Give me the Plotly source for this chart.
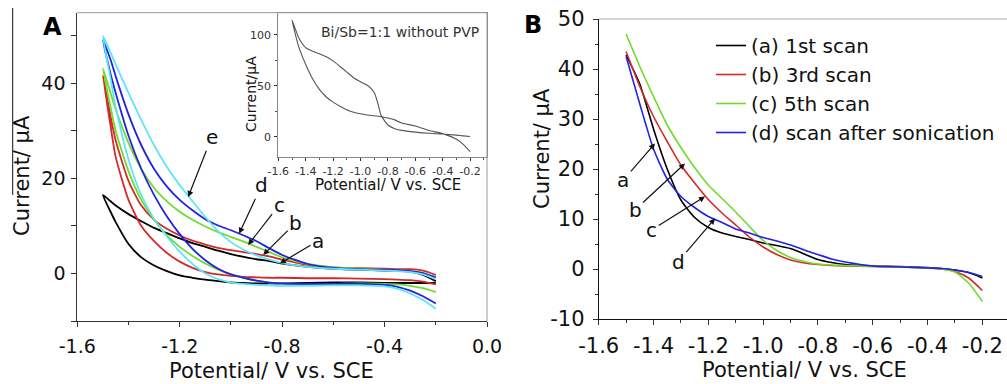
import plotly.graph_objects as go

# ---------------- Panel A: cyclic voltammograms (upper / lower branches) ----------------
VA = [-1.5, -1.47, -1.45, -1.4, -1.35, -1.3, -1.25, -1.2, -1.15, -1.1, -1.05, -1.0,
      -0.95, -0.9, -0.85, -0.8, -0.7, -0.6, -0.5, -0.4, -0.35, -0.3, -0.25, -0.2]

a_up = [16.5, 15.2, 14.3, 12.5, 11.0, 9.6, 8.5, 7.4, 6.4, 5.6, 4.8, 4.1,
        3.5, 3.0, 2.6, 2.1, 1.4, 1.0, 0.8, 0.6, 0.5, 0.4, -0.3, -1.6]
a_lo = [16.5, 13.0, 10.8, 6.2, 3.4, 1.7, 0.5, -0.4, -0.9, -1.3, -1.6, -1.9,
        -2.0, -2.1, -2.1, -2.1, -2.0, -1.9, -1.9, -2.0, -2.0, -2.0, -2.0, -2.0]
b_up = [41.7, 33.0, 28.0, 19.5, 14.3, 11.3, 9.4, 8.0, 6.9, 6.1, 5.4, 4.9,
        4.5, 4.1, 3.6, 2.9, 1.8, 1.3, 1.1, 1.0, 0.9, 0.9, 0.6, -0.3]
b_lo = [41.7, 31.0, 24.5, 15.5, 10.0, 6.8, 4.3, 2.5, 1.2, 0.3, -0.2, -0.5,
        -0.7, -0.8, -0.9, -0.9, -1.0, -1.0, -1.1, -1.2, -1.3, -1.4, -1.7, -2.3]
c_up = [43.2, 38.0, 34.5, 27.5, 22.0, 18.0, 15.2, 13.0, 11.3, 9.9, 8.7, 7.7,
        6.7, 5.6, 4.5, 3.4, 2.0, 1.3, 1.0, 0.8, 0.7, 0.5, 0.1, -0.8]
c_lo = [43.2, 35.0, 30.0, 21.5, 15.5, 11.3, 8.0, 5.6, 3.7, 2.1, 0.8, -0.2,
        -0.9, -1.5, -1.9, -2.1, -2.2, -2.2, -2.1, -2.2, -2.3, -2.6, -3.1, -3.9]
d_up = [49.1, 45.0, 41.5, 33.5, 27.0, 22.0, 18.3, 15.5, 13.3, 11.4, 10.1, 9.1,
        8.0, 6.8, 5.3, 3.9, 2.0, 1.2, 0.9, 0.8, 0.7, 0.5, 0.1, -0.8]
d_lo = [49.1, 42.0, 38.0, 29.0, 22.0, 16.5, 12.0, 8.3, 5.2, 2.8, 1.0, -0.2,
        -0.9, -1.5, -1.9, -2.1, -2.2, -2.2, -2.2, -2.4, -2.8, -3.6, -4.8, -6.3]
e_up = [50.0, 46.5, 44.0, 38.0, 32.3, 27.0, 22.4, 18.6, 15.2, 11.9, 8.9, 6.6,
        5.0, 3.8, 2.9, 2.2, 1.4, 1.0, 0.8, 0.6, 0.5, 0.3, -0.2, -1.2]
e_lo = [50.0, 41.0, 35.0, 24.0, 16.5, 11.5, 7.8, 4.6, 2.0, 0.0, -1.2, -1.9,
        -2.2, -2.4, -2.5, -2.6, -2.6, -2.5, -2.5, -2.7, -3.2, -4.2, -5.6, -7.4]

A_names = ["a", "b", "c", "d", "e"]
A_up = [a_up, b_up, c_up, d_up, e_up]
A_lo = [a_lo, b_lo, c_lo, d_lo, e_lo]
A_colors = ["#000000", "#d42a2a", "#6fdc2a", "#2222e6", "#5ee6f6"]

# ---------------- Inset: Bi/Sb=1:1 without PVP ----------------
VI = [-1.5, -1.45, -1.4, -1.35, -1.3, -1.25, -1.2, -1.15, -1.1, -1.05, -1.0, -0.95,
      -0.9, -0.87, -0.85, -0.8, -0.75, -0.7, -0.6, -0.5, -0.4, -0.3, -0.25, -0.2]
inset_s = [114.8, 97.0, 87.5, 84.0, 81.5, 78.5, 74.5, 69.0, 63.5, 58.0, 54.0, 50.5,
           43.5, 31.0, 21.0, 11.5, 7.8, 6.2, 4.5, 3.3, 2.6, 1.5, 0.8, 0.2]
inset_o = [114.8, 88.0, 71.0, 57.0, 46.5, 39.0, 34.0, 30.0, 26.5, 24.0, 22.5, 21.3,
           20.5, 20.0, 19.6, 18.3, 16.5, 13.5, 10.5, 6.0, 3.0, -2.5, -7.5, -14.7]

# ---------------- Panel B: single scans ----------------
VB = [-1.5, -1.45, -1.4, -1.35, -1.3, -1.25, -1.2, -1.15, -1.1, -1.05, -1.0, -0.95,
      -0.9, -0.85, -0.8, -0.75, -0.7, -0.6, -0.5, -0.4, -0.35, -0.3, -0.25, -0.2]
B_a = [42.8, 37.0, 28.0, 20.0, 13.8, 10.3, 8.3, 7.2, 6.5, 5.9, 5.2, 4.7,
       4.1, 3.0, 1.9, 1.3, 0.9, 0.6, 0.5, 0.3, 0.1, -0.2, -0.7, -1.8]
B_b = [43.5, 36.5, 30.5, 25.5, 20.8, 17.2, 13.9, 11.2, 8.8, 6.4, 4.4, 2.9,
       1.8, 1.2, 0.9, 0.7, 0.6, 0.5, 0.4, 0.2, 0.0, -0.5, -1.8, -4.3]
B_c = [47.0, 40.5, 34.5, 28.8, 24.3, 20.3, 16.8, 14.1, 11.4, 8.5, 5.7, 3.7,
       2.3, 1.5, 1.0, 0.8, 0.7, 0.5, 0.4, 0.2, 0.0, -0.6, -2.8, -6.5]
B_d = [42.5, 33.0, 24.0, 18.0, 14.5, 12.3, 10.5, 9.3, 8.0, 7.2, 6.3, 5.6,
       4.8, 3.8, 2.9, 2.0, 1.4, 0.6, 0.4, 0.2, 0.1, -0.2, -0.7, -1.5]
B_series = [B_a, B_b, B_c, B_d]
B_names = ["(a) 1st scan", "(b) 3rd scan", "(c) 5th scan", "(d) scan after sonication"]
B_colors = ["#000000", "#d42a2a", "#6fdc2a", "#2222e6"]

# ---------------- Tick labels ----------------
A_xticks = [-1.6, -1.2, -0.8, -0.4, 0.0]
A_xtext = ["-1.6", "-1.2", "-0.8", "-0.4", "0.0"]
A_yticks = [0, 20, 40]
A_ytext = ["0", "20", "40"]
I_xticks = [-1.6, -1.4, -1.2, -1.0, -0.8, -0.6, -0.4, -0.2]
I_xtext = ["-1.6", "-1.4", "-1.2", "-1.0", "-0.8", "-0.6", "-0.4", "-0.2"]
I_yticks = [0, 50, 100]
I_ytext = ["0", "50", "100"]
B_xticks = [-1.6, -1.4, -1.2, -1.0, -0.8, -0.6, -0.4, -0.2]
B_xtext = ["-1.6", "-1.4", "-1.2", "-1.0", "-0.8", "-0.6", "-0.4", "-0.2"]
B_yticks = [-10, 0, 10, 20, 30, 40, 50]
B_ytext = ["-10", "0", "10", "20", "30", "40", "50"]

FONT = "DejaVu Sans"
W, H = 1007, 384

fig = go.Figure()

# Panel A loops
for nm, up, lo, col in zip(A_names, A_up, A_lo, A_colors):
    fig.add_trace(go.Scatter(
        x=VA[::-1] + VA[1:], y=up[::-1] + lo[1:], mode="lines", name=nm,
        line=dict(color=col, width=1.8, shape="spline", smoothing=0.6),
        xaxis="x", yaxis="y", showlegend=False, hoverinfo="skip"))

# Inset loop
fig.add_trace(go.Scatter(
    x=VI[::-1] + VI[1:], y=inset_s[::-1] + inset_o[1:], mode="lines",
    line=dict(color="#555555", width=1.1, shape="spline", smoothing=0.6),
    xaxis="x2", yaxis="y2", showlegend=False, hoverinfo="skip"))

# Panel B curves
for nm, ys, col in zip(B_names, B_series, B_colors):
    fig.add_trace(go.Scatter(
        x=VB, y=ys, mode="lines", name=nm,
        line=dict(color=col, width=1.6, shape="spline", smoothing=0.6),
        xaxis="x3", yaxis="y3", showlegend=True))


def px(xp):
    return xp / W


def py(yp):
    return (H - yp) / H


axis_common = dict(showgrid=False, zeroline=False, showline=True, ticks="outside",
                   tickwidth=1, tickcolor="#333", linewidth=1)

fig.update_layout(
    width=W, height=H, autosize=False,
    margin=dict(l=0, r=0, t=0, b=0, autoexpand=False),
    paper_bgcolor="white", plot_bgcolor="white",
    font=dict(family=FONT, color="#111"),
    xaxis=dict(domain=[px(77.3), px(487)], range=[-1.6, 0.0], anchor="y",
               tickvals=A_xticks, ticktext=A_xtext, ticklen=5, linecolor="#333",
               tickfont=dict(size=19), ticklabelstandoff=3,
               minor=dict(ticks="outside", ticklen=3, tick0=-1.6, dtick=0.2, tickcolor="#333"),
               **axis_common),
    yaxis=dict(domain=[py(321), py(12.7)], range=[-10, 54.9], anchor="x",
               tickvals=A_yticks, ticktext=A_ytext, ticklen=5, linecolor="#333",
               tickfont=dict(size=19), ticklabelstandoff=2,
               minor=dict(ticks="outside", ticklen=5, tick0=-10, dtick=10, tickcolor="#333"),
               **axis_common),
    xaxis2=dict(domain=[px(278.3), px(486.7)], range=[-1.6, -0.079], anchor="y2",
                tickvals=I_xticks, ticktext=I_xtext, ticklen=3, linecolor="#888", mirror=True,
                tickfont=dict(size=11, color="#333"), ticklabelstandoff=1,
                minor=dict(ticks="outside", ticklen=2, tick0=-1.6, dtick=0.1, tickcolor="#555"),
                **axis_common),
    yaxis2=dict(domain=[py(156.7), py(13.3)], range=[-19.7, 121.3], anchor="x2",
                tickvals=I_yticks, ticktext=I_ytext, ticklen=3, linecolor="#888", mirror=True,
                tickfont=dict(size=11, color="#333"), ticklabelstandoff=1,
                minor=dict(ticks="outside", ticklen=2, tick0=0, dtick=25, tickcolor="#555"),
                **axis_common),
    xaxis3=dict(domain=[px(598.7), 1.0], range=[-1.6, -0.11], anchor="y3",
                tickvals=B_xticks, ticktext=B_xtext, ticklen=5, linecolor="#111",
                tickfont=dict(size=21), ticklabelstandoff=3,
                minor=dict(ticks="outside", ticklen=3, tick0=-1.6, dtick=0.1, tickcolor="#333"),
                **axis_common),
    yaxis3=dict(domain=[py(319), py(19)], range=[-10, 50], anchor="x3",
                tickvals=B_yticks, ticktext=B_ytext, ticklen=5, linecolor="#111",
                tickfont=dict(size=21), ticklabelstandoff=4,
                minor=dict(ticks="outside", ticklen=3, tick0=-10, dtick=5, tickcolor="#333"),
                **axis_common),
    legend=dict(x=px(711), y=py(26), xanchor="left", yanchor="top",
                font=dict(size=20, family=FONT, color="#111"),
                bgcolor="rgba(0,0,0,0)", borderwidth=0, tracegroupgap=0, itemwidth=30),
)

# frame lines (top/right) in lighter gray
fig.add_shape(type="line", xref="x domain", yref="y domain", x0=0, x1=1, y0=1, y1=1,
              line=dict(color="#999", width=1))
fig.add_shape(type="line", xref="x domain", yref="y domain", x0=1, x1=1, y0=0, y1=1,
              line=dict(color="#999", width=1))
fig.add_shape(type="line", xref="x3 domain", yref="y3 domain", x0=0, x1=1, y0=1, y1=1,
              line=dict(color="#aaa", width=1))
# cropped edge line at far left
fig.add_shape(type="line", xref="paper", yref="paper", x0=px(12.7), x1=px(12.7),
              y0=py(195), y1=py(8), line=dict(color="#111", width=1))

# axis titles
titles = [
    ("Potential/ V vs. SCE", 271.7, 370.5, 0, 21),
    ("Potential/ V vs. SCE", 804, 370, 0, 21),
    ("Current/ μA", 22, 176, -90, 21),
    ("Current/ μA", 542, 149, -90, 21),
    ("Potential/ V vs. SCE", 388, 185, 0, 15),
    ("Current/μA", 251, 94, -90, 14),
]
for txt, xp, yp, ang, sz in titles:
    fig.add_annotation(text=txt, x=px(xp), y=py(yp), xref="paper", yref="paper",
                       xanchor="center", yanchor="middle", textangle=ang, showarrow=False,
                       font=dict(size=sz, family=FONT, color="#111"))

fig.add_annotation(text="Bi/Sb=1:1 without PVP", x=px(400), y=py(32), xref="paper", yref="paper",
                   xanchor="center", yanchor="middle", showarrow=False,
                   font=dict(size=14, family=FONT, color="#333"))
fig.add_annotation(text="<b>A</b>", x=px(52), y=py(27), xref="paper", yref="paper",
                   xanchor="center", yanchor="middle", showarrow=False,
                   font=dict(size=24, family=FONT, color="#000"))
fig.add_annotation(text="<b>B</b>", x=px(533), y=py(25), xref="paper", yref="paper",
                   xanchor="center", yanchor="middle", showarrow=False,
                   font=dict(size=24, family=FONT, color="#000"))

# curve labels with arrows, panel A (tip, letter position)
A_arrows = [("e", -1.167, 16.1, -1.0755, 28.7),
            ("d", -0.968, 8.4, -0.880, 18.6),
            ("c", -0.933, 6.0, -0.812, 14.4),
            ("b", -0.874, 3.9, -0.747, 10.7),
            ("a", -0.809, 2.1, -0.660, 6.9)]
for t, x, y, ax, ay in A_arrows:
    fig.add_annotation(text=t, x=x, y=y, ax=ax, ay=ay, xref="x", yref="y", axref="x", ayref="y",
                       showarrow=True, arrowhead=2, arrowsize=1, arrowwidth=1.2,
                       arrowcolor="#111", standoff=0, font=dict(size=20, family=FONT, color="#111"))

B_arrows = [("a", -1.3945, 25.1, -1.510, 17.8),
            ("b", -1.285, 21.1, -1.4675, 11.8),
            ("c", -1.212, 14.5, -1.4066, 7.8),
            ("d", -1.1755, 10.1, -1.3095, 1.5)]
for t, x, y, ax, ay in B_arrows:
    fig.add_annotation(text=t, x=x, y=y, ax=ax, ay=ay, xref="x3", yref="y3", axref="x3", ayref="y3",
                       showarrow=True, arrowhead=2, arrowsize=1, arrowwidth=1.2,
                       arrowcolor="#111", standoff=0, font=dict(size=20, family=FONT, color="#111"))

fig.write_html("out.html", config={"displayModeBar": False},
               post_script="document.body.style.margin='0px';")
